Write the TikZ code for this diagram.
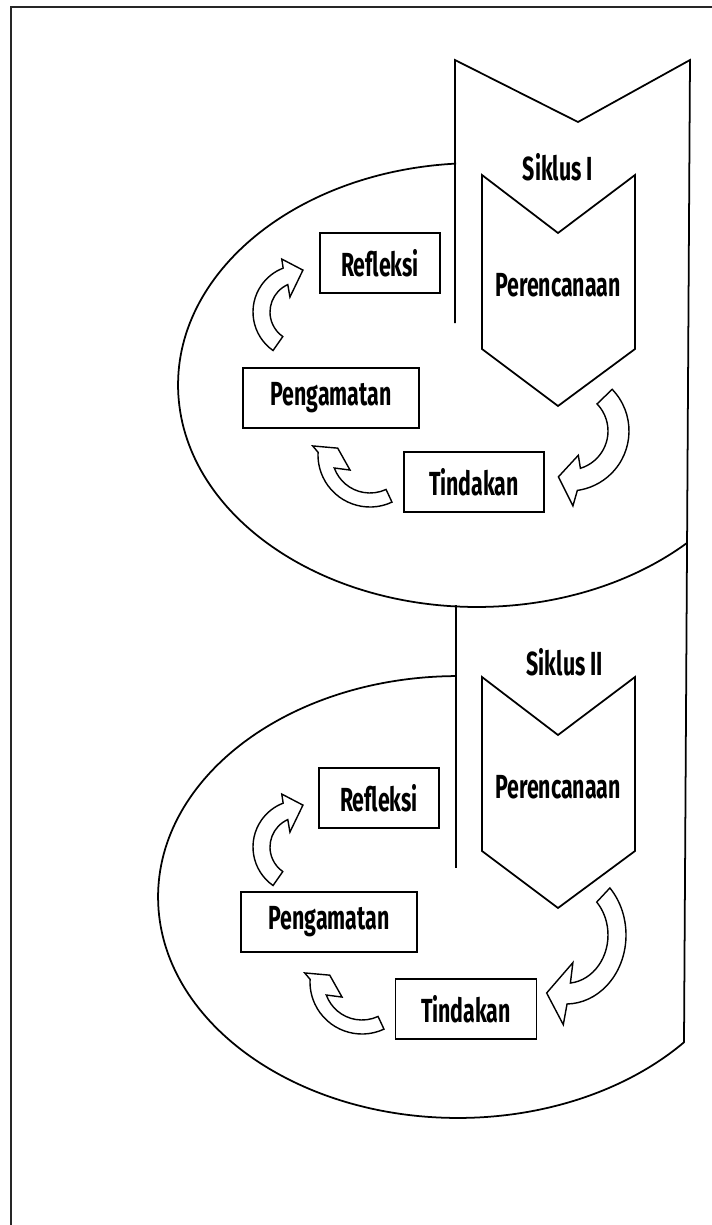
\documentclass[tikz,border=0pt]{standalone}
\usepackage{fontspec}
\newfontfamily\cyclefont[FakeStretch=0.64]{Fira Sans}

% curved block arrow: center, yscale, r in, r out, tail angle, head angle (outer), head angle (inner), head points
\newcommand{\cycarrow}[8]{%
  \begin{scope}[shift={(#1)}, yscale=#2]
    \draw[blockarrow] (#5:#4) arc[start angle=#5, end angle=#6, radius=#4*0.02cm]
      -- #8 -- (#7:#3) arc[start angle=#7, end angle=#5, radius=#3*0.02cm] -- cycle;
  \end{scope}}

\begin{document}
\begin{tikzpicture}[x=0.02cm, y=0.02cm,
    outline/.style={line width=1pt},
    blockarrow/.style={draw, line width=0.8pt, fill=white},
    txt/.style={font=\cyclefont\bfseries\fontsize{19}{22}\selectfont},
    box/.style={txt, draw, line width=1pt, fill=white, minimum width=#1, minimum height=1.2cm, inner sep=0pt}]
  \useasboundingbox (0,0) rectangle (712,-1225);
  \draw[line width=1.4pt, black!85] (712,-7) -- (11,-7) -- (11,-1225);

  % big band
  \coordinate (bandL) at (455,-60);
  \coordinate (bandN) at (578,-122);
  \coordinate (bandR) at (690,-60);
  \coordinate (bandE) at (684,-1042);
  \draw[outline] (455,-323) -- (bandL) -- (bandN) -- (bandR) -- (bandE);
  \draw[outline] (456,-605) -- (456,-868);

  % the two cycles
  \coordinate (cyc1) at (477,-385);
  \coordinate (cyc2) at (458,-897);
  \draw[outline] (cyc1) ++(94:5.98cm and 4.44cm)
    arc[start angle=94, end angle=314.7, x radius=5.98cm, y radius=4.44cm];
  \draw[outline] (cyc2) ++(90.4:6cm and 4.42cm)
    arc[start angle=90.4, end angle=319, x radius=6cm, y radius=4.42cm];

  % planning chevrons
  \draw[outline] (482,-175) -- (558,-233) -- (635,-175) -- (635,-349) -- (558,-406) -- (482,-349) -- cycle;
  \draw[outline] (482,-677) -- (558,-735) -- (635,-677) -- (635,-851) -- (558,-908) -- (482,-851) -- cycle;
  \node[txt] (siklus1) at (558,-167) {Siklus I};
  \node[txt] (plan1) at (558,-285) {Perencanaan};
  \node[txt] (siklus2) at (565,-662) {Siklus II};
  \node[txt] (plan2) at (558,-787) {Perencanaan};

  % boxes
  \node[box=2.4cm] (refl1) at (380,-263) {Refleksi};
  \node[box=3.52cm] (peng1) at (331,-398) {Pengamatan};
  \node[box=2.8cm] (tind1) at (474,-482) {Tindakan};
  \node[box=2.4cm] (refl2) at (379,-798) {Refleksi};
  \node[box=3.52cm] (peng2) at (329,-922) {Pengamatan};
  \node[box=2.82cm] (tind2) at (466,-1009) {Tindakan};

  % curved arrows
  \coordinate (planTo1) at (569,-431);
  \coordinate (tindTo1) at (370,-455);
  \coordinate (pengTo1) at (300,-312);
  \coordinate (planTo2) at (566,-935);
  \coordinate (tindTo2) at (362,-982);
  \coordinate (pengTo2) at (300,-847);
  \cycarrow{planTo1}{1}{39}{60}{44}{-82}{-73}{(-87:75) -- (-103:47) -- (-69:26)}
  \cycarrow{planTo2}{1.15}{42}{60}{43}{-89}{-84}{(-92:78) -- (-111:54) -- (-74:25)}
  \cycarrow{tindTo1}{1}{38}{52}{-65}{-183}{-160}{(171:58) -- (168:33) -- (217:25)}
  \cycarrow{tindTo2}{1}{38}{52}{-65}{-183}{-160}{(171:58) -- (168:33) -- (217:25)}
  \cycarrow{pengTo1}{1}{30}{47}{-125}{-249}{-246}{(-251:56) -- (-274:42) -- (-236:18)}
  \cycarrow{pengTo2}{1}{30}{47}{-125}{-249}{-246}{(-251:56) -- (-274:42) -- (-236:18)}
\end{tikzpicture}
\end{document}
